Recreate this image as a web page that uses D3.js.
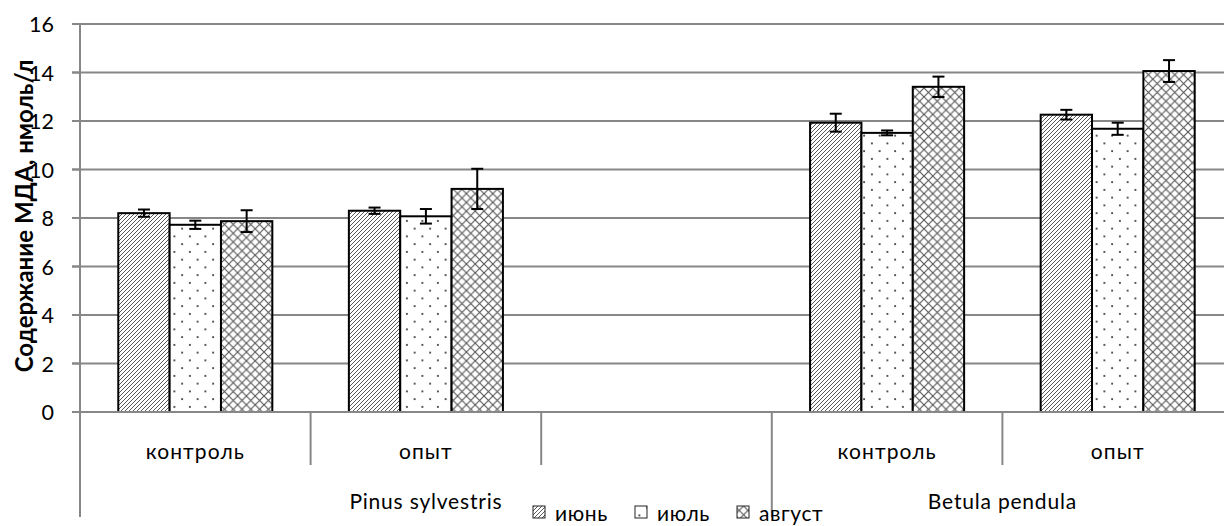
<!DOCTYPE html>
<html>
<head>
<meta charset="utf-8">
<script src="https://cdn.jsdelivr.net/npm/d3@7"></script>
<style>
  html, body { margin: 0; padding: 0; background: #fff; }
  svg { display: block; font-family: Lato, "Open Sans", "Noto Sans", sans-serif; }
</style>
</head>
<body>
<svg id="chart" width="1224" height="526"></svg>
<script>
// Inner category labels (the empty slot separates the two species)
const categories = ["контроль", "опыт", "", "контроль", "опыт"];
// Outer grouping: species name and the inner categories it spans
const groups = [
  { name: "Pinus sylvestris", from: 0, to: 2 },
  { name: "Betula pendula", from: 3, to: 4 }
];
const seriesNames = ["июнь", "июль", "август"];

// MDA content, nmol/l, per category
const june   = [8.2, 8.3, null, 11.93, 12.26];
const july   = [7.72, 8.07, null, 11.51, 11.68];
const august = [7.87, 9.2, null, 13.41, 14.06];

// Error bar half-widths
const juneErr   = [0.15, 0.13, null, 0.37, 0.2];
const julyErr   = [0.17, 0.3, null, 0.1, 0.25];
const augustErr = [0.45, 0.83, null, 0.42, 0.45];

const yTicks = [0, 2, 4, 6, 8, 10, 12, 14, 16];

const seriesValues = [june, july, august];
const seriesErrors = [juneErr, julyErr, augustErr];
const patternIds = ["pat-june", "pat-july", "pat-aug"];

const svg = d3.select("#chart");
const W = 1224, H = 526;

const plotLeft = 80, catWidth = 230.6;
const x0 = d3.scaleBand()
  .domain(d3.range(categories.length))
  .range([plotLeft, plotLeft + catWidth * categories.length])
  .padding(0);
const x1 = d3.scaleBand()
  .domain(d3.range(seriesNames.length))
  .range([x0.bandwidth() * 0.166, x0.bandwidth() * (1 - 0.166)])
  .padding(0);
const y = d3.scaleLinear().domain([0, 16]).range([412, 24]);

// ---- fill patterns ----
const defs = svg.append("defs");
// diagonal hatch "////"
const pj = defs.append("pattern").attr("id", "pat-june")
  .attr("patternUnits", "userSpaceOnUse").attr("width", 4).attr("height", 4);
pj.append("rect").attr("width", 4).attr("height", 4).attr("fill", "#fff");
pj.append("path").attr("d", "M-1,1 L1,-1 M0,4 L4,0 M3,5 L5,3")
  .attr("stroke", "#505050").attr("stroke-width", 0.95);
// sparse staggered dots
const pd = defs.append("pattern").attr("id", "pat-july")
  .attr("patternUnits", "userSpaceOnUse").attr("width", 15.5).attr("height", 15.5);
pd.append("rect").attr("width", 15.5).attr("height", 15.5).attr("fill", "#fff");
pd.append("rect").attr("x", 3).attr("y", 3).attr("width", 1.8).attr("height", 1.8).attr("fill", "#3a3a3a");
pd.append("rect").attr("x", 10.75).attr("y", 10.75).attr("width", 1.8).attr("height", 1.8).attr("fill", "#3a3a3a");
// diagonal crosshatch
const pc = defs.append("pattern").attr("id", "pat-aug")
  .attr("patternUnits", "userSpaceOnUse").attr("width", 8.8).attr("height", 8.8);
pc.append("rect").attr("width", 8.8).attr("height", 8.8).attr("fill", "#fff");
pc.append("path").attr("d", "M0,0 L8.8,8.8 M8.8,0 L0,8.8")
  .attr("stroke", "#555").attr("stroke-width", 1.1);

// ---- gridlines ----
svg.append("g").selectAll("line").data(yTicks.filter(d => d > 0)).join("line")
  .attr("x1", 72).attr("x2", W)
  .attr("y1", d => y(d)).attr("y2", d => y(d))
  .attr("stroke", "#878787").attr("stroke-width", 2);

// ---- bars ----
const barG = svg.append("g");
seriesValues.forEach((vals, s) => {
  barG.append("g").selectAll("rect")
    .data(vals.map((v, i) => ({ v, i })).filter(d => d.v != null))
    .join("rect")
    .attr("x", d => x0(d.i) + x1(s))
    .attr("width", x1.bandwidth())
    .attr("y", d => y(d.v))
    .attr("height", d => y(0) - y(d.v))
    .attr("fill", `url(#${patternIds[s]})`)
    .attr("stroke", "#000").attr("stroke-width", 2);
});

// ---- error bars ----
const errG = svg.append("g").attr("stroke", "#000").attr("stroke-width", 2);
seriesValues.forEach((vals, s) => {
  vals.forEach((v, i) => {
    if (v == null) return;
    const e = seriesErrors[s][i];
    const cx = x0(i) + x1(s) + x1.bandwidth() / 2;
    errG.append("line").attr("x1", cx).attr("x2", cx).attr("y1", y(v + e)).attr("y2", y(v - e));
    errG.append("line").attr("x1", cx - 6).attr("x2", cx + 6).attr("y1", y(v + e)).attr("y2", y(v + e));
    errG.append("line").attr("x1", cx - 6).attr("x2", cx + 6).attr("y1", y(v - e)).attr("y2", y(v - e));
  });
});

// ---- axes ----
const axisG = svg.append("g").attr("stroke", "#878787").attr("stroke-width", 2);
axisG.append("line").attr("x1", 72).attr("x2", W).attr("y1", y(0)).attr("y2", y(0));
axisG.append("line").attr("x1", plotLeft).attr("x2", plotLeft).attr("y1", y(16) - 1).attr("y2", 517);
// y ticks
axisG.selectAll("line.tick").data(yTicks).join("line").attr("class", "tick")
  .attr("x1", 72).attr("x2", plotLeft).attr("y1", d => y(d)).attr("y2", d => y(d));
// inner category dividers; species boundaries run down through the outer row
d3.range(1, categories.length).forEach(i => {
  const isGroupEdge = groups.some(g => g.from === i);
  axisG.append("line").attr("x1", x0(i)).attr("x2", x0(i))
    .attr("y1", y(0)).attr("y2", isGroupEdge ? 517 : 465);
});

// y tick labels
svg.append("g").selectAll("text").data(yTicks).join("text")
  .attr("x", 54).attr("y", d => y(d))
  .attr("text-anchor", "end").attr("dominant-baseline", "central")
  .attr("font-size", 21.5).attr("fill", "#000")
  .text(d => d);

// y axis title
svg.append("text")
  .attr("transform", "translate(33,216) rotate(-90)")
  .attr("text-anchor", "middle")
  .attr("font-size", 24).attr("font-weight", "bold").attr("fill", "#000")
  .text("Содержание МДА, нмоль/л");

// inner category labels
svg.append("g").selectAll("text").data(categories).join("text")
  .attr("x", (d, i) => x0(i) + x0.bandwidth() / 2).attr("y", 459)
  .attr("text-anchor", "middle").attr("font-size", 21).attr("fill", "#000")
  .attr("letter-spacing", 1.1)
  .text(d => d);

// outer group labels
svg.append("g").selectAll("text").data(groups).join("text")
  .attr("x", d => (x0(d.from) + x0(d.to) + x0.bandwidth()) / 2).attr("y", 509)
  .attr("text-anchor", "middle").attr("font-size", 21).attr("fill", "#000")
  .attr("letter-spacing", 0.8)
  .text(d => d.name);

// ---- legend ----
const legendX = [533, 635, 737];
const lg = svg.append("g");
seriesNames.forEach((name, s) => {
  lg.append("rect").attr("x", legendX[s]).attr("y", 506).attr("width", 12).attr("height", 12)
    .attr("fill", `url(#${patternIds[s]})`).attr("stroke", "#222").attr("stroke-width", 1);
  lg.append("text").attr("x", legendX[s] + 22).attr("y", 521)
    .attr("font-size", 21).attr("fill", "#000")
    .attr("letter-spacing", 0.6)
    .text(name);
});
</script>
</body>
</html>
